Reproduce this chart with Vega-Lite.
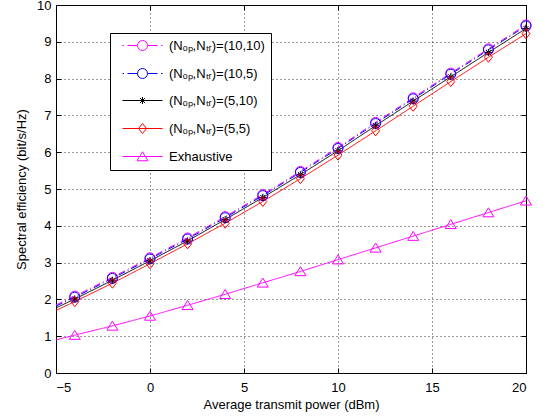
{
  "$schema": "https://vega.github.io/schema/vega-lite/v6.json",
  "width": 470,
  "height": 368,
  "autosize": {"type": "none"},
  "padding": {"left": 56, "top": 5, "right": 17, "bottom": 46},
  "background": "white",
  "config": {
    "font": "Liberation Sans",
    "view": {"stroke": "black", "strokeWidth": 1},
    "axis": {
      "domainColor": "black",
      "domainWidth": 1,
      "tickColor": "black",
      "tickSize": -5,
      "tickWidth": 1,
      "labelColor": "black",
      "labelFont": "Liberation Sans",
      "labelFontSize": 13,
      "titleFont": "Liberation Sans",
      "titleFontSize": 13,
      "titleFontWeight": "normal",
      "titleColor": "black",
      "gridColor": "black",
      "gridDash": [1, 3],
      "gridOpacity": 0.8,
      "gridWidth": 1,
      "labelOverlap": false
    }
  },
  "data": {
    "values": [
      {"series": "(Nₒₚ,Nₜᵣ)=(10,10)", "x": -5, "y": 1.85},
      {"series": "(Nₒₚ,Nₜᵣ)=(10,10)", "x": -4, "y": 2.09},
      {"series": "(Nₒₚ,Nₜᵣ)=(10,10)", "x": -2, "y": 2.60},
      {"series": "(Nₒₚ,Nₜᵣ)=(10,10)", "x": 0, "y": 3.13},
      {"series": "(Nₒₚ,Nₜᵣ)=(10,10)", "x": 2, "y": 3.67},
      {"series": "(Nₒₚ,Nₜᵣ)=(10,10)", "x": 4, "y": 4.25},
      {"series": "(Nₒₚ,Nₜᵣ)=(10,10)", "x": 6, "y": 4.85},
      {"series": "(Nₒₚ,Nₜᵣ)=(10,10)", "x": 8, "y": 5.48},
      {"series": "(Nₒₚ,Nₜᵣ)=(10,10)", "x": 10, "y": 6.13},
      {"series": "(Nₒₚ,Nₜᵣ)=(10,10)", "x": 12, "y": 6.81},
      {"series": "(Nₒₚ,Nₜᵣ)=(10,10)", "x": 14, "y": 7.48},
      {"series": "(Nₒₚ,Nₜᵣ)=(10,10)", "x": 16, "y": 8.15},
      {"series": "(Nₒₚ,Nₜᵣ)=(10,10)", "x": 18, "y": 8.81},
      {"series": "(Nₒₚ,Nₜᵣ)=(10,10)", "x": 20, "y": 9.46},
      {"series": "(Nₒₚ,Nₜᵣ)=(10,5)", "x": -5, "y": 1.82},
      {"series": "(Nₒₚ,Nₜᵣ)=(10,5)", "x": -4, "y": 2.06},
      {"series": "(Nₒₚ,Nₜᵣ)=(10,5)", "x": -2, "y": 2.57},
      {"series": "(Nₒₚ,Nₜᵣ)=(10,5)", "x": 0, "y": 3.10},
      {"series": "(Nₒₚ,Nₜᵣ)=(10,5)", "x": 2, "y": 3.64},
      {"series": "(Nₒₚ,Nₜᵣ)=(10,5)", "x": 4, "y": 4.22},
      {"series": "(Nₒₚ,Nₜᵣ)=(10,5)", "x": 6, "y": 4.82},
      {"series": "(Nₒₚ,Nₜᵣ)=(10,5)", "x": 8, "y": 5.45},
      {"series": "(Nₒₚ,Nₜᵣ)=(10,5)", "x": 10, "y": 6.10},
      {"series": "(Nₒₚ,Nₜᵣ)=(10,5)", "x": 12, "y": 6.78},
      {"series": "(Nₒₚ,Nₜᵣ)=(10,5)", "x": 14, "y": 7.45},
      {"series": "(Nₒₚ,Nₜᵣ)=(10,5)", "x": 16, "y": 8.12},
      {"series": "(Nₒₚ,Nₜᵣ)=(10,5)", "x": 18, "y": 8.78},
      {"series": "(Nₒₚ,Nₜᵣ)=(10,5)", "x": 20, "y": 9.43},
      {"series": "(Nₒₚ,Nₜᵣ)=(5,10)", "x": -5, "y": 1.77},
      {"series": "(Nₒₚ,Nₜᵣ)=(5,10)", "x": -4, "y": 2.01},
      {"series": "(Nₒₚ,Nₜᵣ)=(5,10)", "x": -2, "y": 2.52},
      {"series": "(Nₒₚ,Nₜᵣ)=(5,10)", "x": 0, "y": 3.05},
      {"series": "(Nₒₚ,Nₜᵣ)=(5,10)", "x": 2, "y": 3.59},
      {"series": "(Nₒₚ,Nₜᵣ)=(5,10)", "x": 4, "y": 4.17},
      {"series": "(Nₒₚ,Nₜᵣ)=(5,10)", "x": 6, "y": 4.77},
      {"series": "(Nₒₚ,Nₜᵣ)=(5,10)", "x": 8, "y": 5.39},
      {"series": "(Nₒₚ,Nₜᵣ)=(5,10)", "x": 10, "y": 6.04},
      {"series": "(Nₒₚ,Nₜᵣ)=(5,10)", "x": 12, "y": 6.72},
      {"series": "(Nₒₚ,Nₜᵣ)=(5,10)", "x": 14, "y": 7.39},
      {"series": "(Nₒₚ,Nₜᵣ)=(5,10)", "x": 16, "y": 8.05},
      {"series": "(Nₒₚ,Nₜᵣ)=(5,10)", "x": 18, "y": 8.71},
      {"series": "(Nₒₚ,Nₜᵣ)=(5,10)", "x": 20, "y": 9.36},
      {"series": "(Nₒₚ,Nₜᵣ)=(5,5)", "x": -5, "y": 1.70},
      {"series": "(Nₒₚ,Nₜᵣ)=(5,5)", "x": -4, "y": 1.94},
      {"series": "(Nₒₚ,Nₜᵣ)=(5,5)", "x": -2, "y": 2.44},
      {"series": "(Nₒₚ,Nₜᵣ)=(5,5)", "x": 0, "y": 2.97},
      {"series": "(Nₒₚ,Nₜᵣ)=(5,5)", "x": 2, "y": 3.51},
      {"series": "(Nₒₚ,Nₜᵣ)=(5,5)", "x": 4, "y": 4.07},
      {"series": "(Nₒₚ,Nₜᵣ)=(5,5)", "x": 6, "y": 4.66},
      {"series": "(Nₒₚ,Nₜᵣ)=(5,5)", "x": 8, "y": 5.28},
      {"series": "(Nₒₚ,Nₜᵣ)=(5,5)", "x": 10, "y": 5.92},
      {"series": "(Nₒₚ,Nₜᵣ)=(5,5)", "x": 12, "y": 6.58},
      {"series": "(Nₒₚ,Nₜᵣ)=(5,5)", "x": 14, "y": 7.25},
      {"series": "(Nₒₚ,Nₜᵣ)=(5,5)", "x": 16, "y": 7.92},
      {"series": "(Nₒₚ,Nₜᵣ)=(5,5)", "x": 18, "y": 8.58},
      {"series": "(Nₒₚ,Nₜᵣ)=(5,5)", "x": 20, "y": 9.22},
      {"series": "Exhaustive", "x": -5, "y": 0.90},
      {"series": "Exhaustive", "x": -4, "y": 1.03},
      {"series": "Exhaustive", "x": -2, "y": 1.28},
      {"series": "Exhaustive", "x": 0, "y": 1.55},
      {"series": "Exhaustive", "x": 2, "y": 1.84},
      {"series": "Exhaustive", "x": 4, "y": 2.14},
      {"series": "Exhaustive", "x": 6, "y": 2.45},
      {"series": "Exhaustive", "x": 8, "y": 2.76},
      {"series": "Exhaustive", "x": 10, "y": 3.08},
      {"series": "Exhaustive", "x": 12, "y": 3.40},
      {"series": "Exhaustive", "x": 14, "y": 3.72},
      {"series": "Exhaustive", "x": 16, "y": 4.04},
      {"series": "Exhaustive", "x": 18, "y": 4.36},
      {"series": "Exhaustive", "x": 20, "y": 4.68}
    ]
  },
  "layer": [
    {
      "mark": {"type": "line", "strokeWidth": 1, "clip": true},
      "encoding": {
        "x": {
          "field": "x", "type": "quantitative",
          "scale": {"domain": [-5, 20], "nice": false, "zero": false},
          "axis": {"orient": "bottom", "values": [-5, 0, 5, 10, 15, 20], "grid": true, "title": "Average transmit power (dBm)", "labelPadding": 13, "titlePadding": 4}
        },
        "y": {
          "field": "y", "type": "quantitative",
          "scale": {"domain": [0, 10], "nice": false, "zero": false},
          "axis": {"orient": "left", "values": [0, 1, 2, 3, 4, 5, 6, 7, 8, 9, 10], "grid": true, "title": "Spectral efficiency (bit/s/Hz)", "labelPadding": 10, "titlePadding": 8}
        },
        "color": {
          "field": "series", "type": "nominal",
          "scale": {"domain": ["(Nₒₚ,Nₜᵣ)=(10,10)", "(Nₒₚ,Nₜᵣ)=(10,5)", "(Nₒₚ,Nₜᵣ)=(5,10)", "(Nₒₚ,Nₜᵣ)=(5,5)", "Exhaustive"], "range": ["#ff00ff", "#0000ff", "#000000", "#ff0000", "#ff00ff"]},
          "legend": null
        },
        "strokeDash": {
          "field": "series", "type": "nominal",
          "scale": {"domain": ["(Nₒₚ,Nₜᵣ)=(10,10)", "(Nₒₚ,Nₜᵣ)=(10,5)", "(Nₒₚ,Nₜᵣ)=(5,10)", "(Nₒₚ,Nₜᵣ)=(5,5)", "Exhaustive"], "range": [[7, 3, 1, 3], [7, 3, 1, 3], [1, 0], [1, 0], [1, 0]]},
          "legend": null
        }
      }
    },
    {
      "transform": [{"filter": "datum.x > -5"}],
      "mark": {"type": "point", "filled": false, "strokeWidth": 1, "size": 100, "opacity": 1},
      "encoding": {
        "x": {"field": "x", "type": "quantitative", "axis": null},
        "y": {"field": "y", "type": "quantitative", "axis": null},
        "color": {
          "field": "series", "type": "nominal",
          "scale": {"domain": ["(Nₒₚ,Nₜᵣ)=(10,10)", "(Nₒₚ,Nₜᵣ)=(10,5)", "(Nₒₚ,Nₜᵣ)=(5,10)", "(Nₒₚ,Nₜᵣ)=(5,5)", "Exhaustive"], "range": ["#ff00ff", "#0000ff", "#000000", "#ff0000", "#ff00ff"]},
          "legend": null
        },
        "shape": {
          "field": "series", "type": "nominal",
          "scale": {
            "domain": ["(Nₒₚ,Nₜᵣ)=(10,10)", "(Nₒₚ,Nₜᵣ)=(10,5)", "(Nₒₚ,Nₜᵣ)=(5,10)", "(Nₒₚ,Nₜᵣ)=(5,5)", "Exhaustive"],
            "range": [
              "M-1,0A1,1 0 1,1 1,0A1,1 0 1,1 -1,0Z",
              "M-1,0A1,1 0 1,1 1,0A1,1 0 1,1 -1,0Z",
              "M-0.7,0H0.7M0,-0.7V0.7M-0.5,-0.5L0.5,0.5M-0.5,0.5L0.5,-0.5",
              "M0,-1L0.8,0L0,1L-0.8,0Z",
              "M0,-0.95L1.1,0.85L-1.1,0.85Z"
            ]
          },
          "legend": null
        }
      }
    },
    {
      "transform": [{"filter": "datum.x > 1000"}],
      "mark": {"type": "point", "filled": false, "strokeWidth": 1, "size": 100, "opacity": 1},
      "encoding": {
        "x": {"field": "x", "type": "quantitative", "axis": {"orient": "top", "values": [-5, 0, 5, 10, 15, 20], "labels": false, "grid": false, "title": null}},
        "y": {"field": "y", "type": "quantitative", "axis": {"orient": "right", "values": [0, 1, 2, 3, 4, 5, 6, 7, 8, 9, 10], "labels": false, "grid": false, "title": null}},
        "color": {
          "field": "series", "type": "nominal",
          "scale": {"domain": ["(Nₒₚ,Nₜᵣ)=(10,10)", "(Nₒₚ,Nₜᵣ)=(10,5)", "(Nₒₚ,Nₜᵣ)=(5,10)", "(Nₒₚ,Nₜᵣ)=(5,5)", "Exhaustive"], "range": ["#ff00ff", "#0000ff", "#000000", "#ff0000", "#ff00ff"]},
          "legend": {
            "orient": "none",
            "legendX": 54,
            "legendY": 28,
            "title": null,
            "padding": 6,
            "strokeColor": "black",
            "fillColor": "white",
            "cornerRadius": 0,
            "symbolSize": 100,
            "symbolStrokeWidth": 1,
            "symbolOffset": 20,
            "labelOffset": 20,
            "labelFont": "Liberation Sans",
            "labelFontSize": 13,
            "labelColor": "black",
            "labelLimit": 300,
            "rowPadding": 13,
            "labelExpr": "datum.label + '       '"
          }
        },
        "shape": {
          "field": "series", "type": "nominal",
          "scale": {
            "domain": ["(Nₒₚ,Nₜᵣ)=(10,10)", "(Nₒₚ,Nₜᵣ)=(10,5)", "(Nₒₚ,Nₜᵣ)=(5,10)", "(Nₒₚ,Nₜᵣ)=(5,5)", "Exhaustive"],
            "range": [
              "M-4,0H-3.7M-3,0H-1M1,0H3M3.7,0H4M-1,0A1,1 0 1,1 1,0A1,1 0 1,1 -1,0Z",
              "M-4,0H-3.7M-3,0H-1M1,0H3M3.7,0H4M-1,0A1,1 0 1,1 1,0A1,1 0 1,1 -1,0Z",
              "M-4,0H4M0,-0.7V0.7M-0.5,-0.5L0.5,0.5M-0.5,0.5L0.5,-0.5",
              "M-4,0H4M0,-1L0.8,0L0,1L-0.8,0Z",
              "M-4,0H4M0,-0.95L1.1,0.85L-1.1,0.85Z"
            ]
          },
          "legend": {
            "orient": "none",
            "legendX": 54,
            "legendY": 28,
            "title": null,
            "padding": 6,
            "strokeColor": "black",
            "fillColor": "white",
            "cornerRadius": 0,
            "symbolSize": 100,
            "symbolStrokeWidth": 1,
            "symbolOffset": 20,
            "labelOffset": 20,
            "labelFont": "Liberation Sans",
            "labelFontSize": 13,
            "labelColor": "black",
            "labelLimit": 300,
            "rowPadding": 13,
            "labelExpr": "datum.label + '       '"
          }
        }
      }
    }
  ],
  "resolve": {
    "scale": {"shape": "independent", "color": "independent"},
    "axis": {"x": "independent", "y": "independent"},
    "legend": {"shape": "independent", "color": "independent"}
  }
}
